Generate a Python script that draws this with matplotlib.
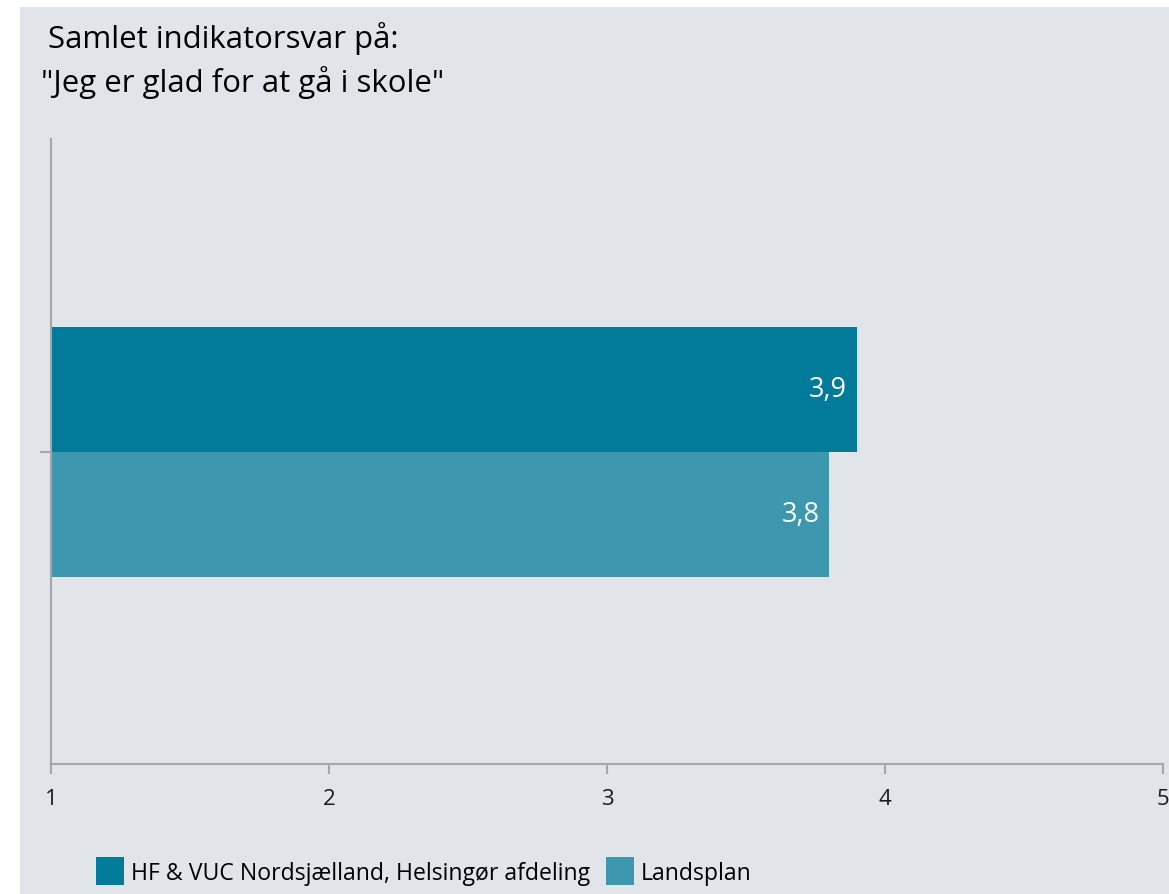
import matplotlib.pyplot as plt
from matplotlib.patches import Rectangle, Patch

plt.rcParams['font.family'] = ['Open Sans', 'DejaVu Sans']

title_lines = ['Samlet indikatorsvar på:', '"Jeg er glad for at gå i skole"']
series_names = ['HF & VUC Nordsjælland, Helsingør afdeling', 'Landsplan']
series_values = [3.9, 3.8]
series_labels = ['3,9', '3,8']
series_colors = ['#027A99', '#3D97AF']
x_ticks = [1, 2, 3, 4, 5]

W, H = 1169, 895
bg = '#E1E5E9'
axis_col = '#A3A7AB'

fig = plt.figure(figsize=(W / 100, H / 100), dpi=100)
fig.patch.set_facecolor('white')
fig.add_artist(Rectangle((20 / W, 0), 1 - 20 / W, 1 - 8 / H,
                         transform=fig.transFigure, facecolor=bg,
                         edgecolor='none', zorder=0))

ax = fig.add_axes([51 / W, (H - 765) / H, (1163 - 51) / W, (765 - 140) / H])
ax.set_facecolor('none')

bar_h = 0.2
offsets = [bar_h / 2, -bar_h / 2]
for name, val, lab, col, off in zip(series_names, series_values,
                                    series_labels, series_colors, offsets):
    ax.barh(off, val - 1, left=1, height=bar_h, color=col, label=name)
    ax.text(val - 0.036, off, lab, color='white', fontsize=19.5,
            ha='right', va='center')

ax.set_xlim(1, 5)
ax.set_ylim(-0.5, 0.5)
ax.set_xticks(x_ticks)
ax.set_xticklabels([str(t) for t in x_ticks])
ax.set_yticks([0])
ax.set_yticklabels([''])

for s in ['top', 'right']:
    ax.spines[s].set_visible(False)
for s in ['left', 'bottom']:
    ax.spines[s].set_color(axis_col)
    ax.spines[s].set_linewidth(1.5)
ax.tick_params(axis='x', colors=axis_col, length=7, width=1.5,
               labelsize=16, labelcolor='#1a1a1a', pad=10)
ax.tick_params(axis='y', colors=axis_col, length=8, width=1.5)

fig.text(48 / W, 1 - 48 / H, title_lines[0], fontsize=22.4, color='black',
         ha='left', va='baseline')
fig.text(41 / W, 1 - 92 / H, title_lines[1], fontsize=22.4, color='black',
         ha='left', va='baseline')

handles = [Patch(facecolor=c, edgecolor='none') for c in series_colors]
fig.legend(handles, series_names, loc='lower left',
           bbox_to_anchor=(87 / W, 0.0), ncol=2, frameon=False,
           fontsize=16.6, handlelength=1.2, handleheight=1.45,
           handletextpad=0.3, columnspacing=0.7, borderaxespad=0.0)

fig.savefig('out.png', dpi=100, facecolor=fig.get_facecolor())
